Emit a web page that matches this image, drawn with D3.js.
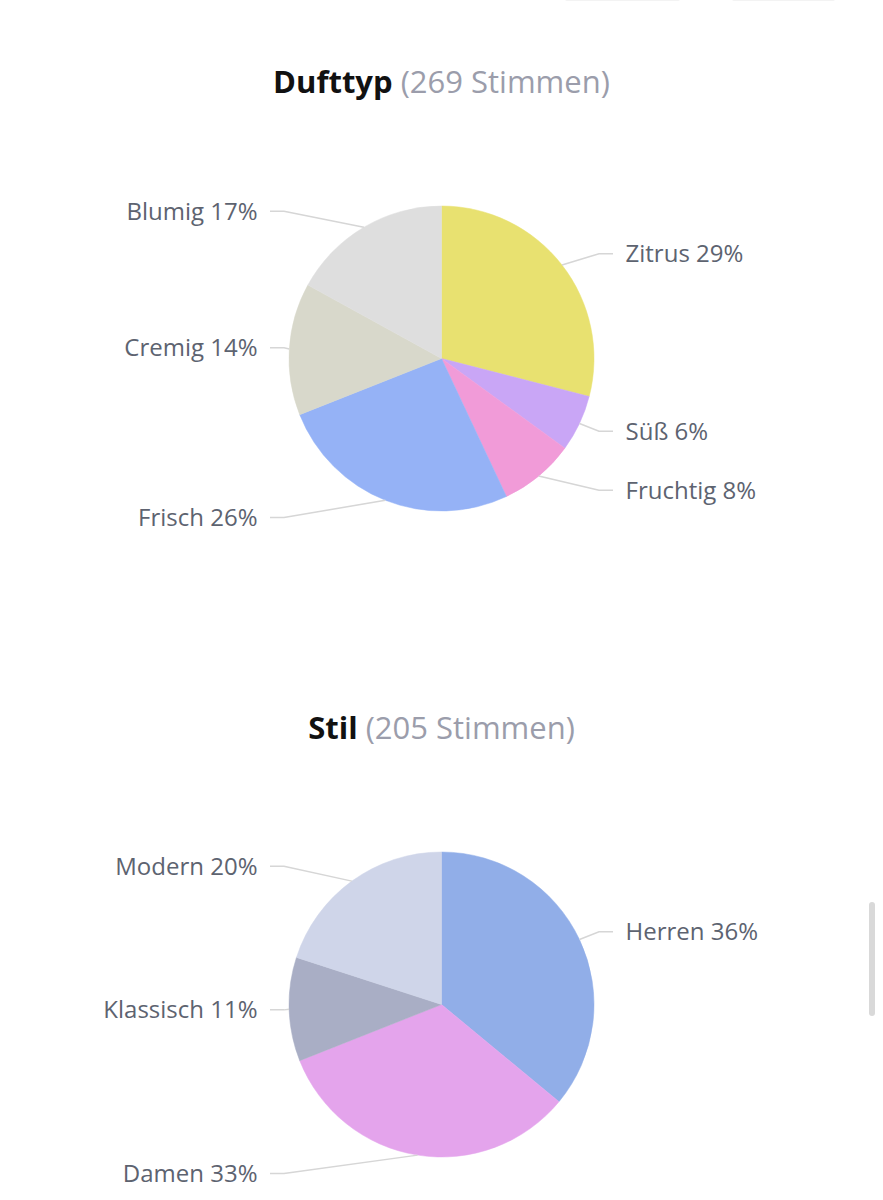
<!DOCTYPE html>
<html>
<head>
<meta charset="utf-8">
<script src="https://cdn.jsdelivr.net/npm/d3@7"></script>
<style>
  html, body { margin: 0; padding: 0; background: #ffffff; }
  svg { display: block; font-family: "Open Sans", sans-serif; }
</style>
</head>
<body>
<svg id="chart" width="883" height="1200"></svg>
<script>
// ---- Data ----
const duftCategories = ["Zitrus", "Süß", "Fruchtig", "Frisch", "Cremig", "Blumig"];
const duftValues = [29, 6, 8, 26, 14, 17];
const duftColors = ["#e8e170", "#c9a6f6", "#f19bd8", "#95b2f6", "#d8d8cb", "#dedede"];
const duftTitle = "Dufttyp";
const duftVotes = "(269 Stimmen)";

const stilCategories = ["Herren", "Damen", "Klassisch", "Modern"];
const stilValues = [36, 33, 11, 20];
const stilColors = ["#91aee8", "#e4a4ec", "#a9aec5", "#cfd5e9"];
const stilTitle = "Stil";
const stilVotes = "(205 Stimmen)";

const svg = d3.select("#chart");

// faint top buttons / scrollbar decoration
svg.append("rect").attr("x", 565).attr("y", -4).attr("width", 115).attr("height", 5).attr("rx", 2).attr("fill", "#f3f3f3");
svg.append("rect").attr("x", 732).attr("y", -4).attr("width", 103).attr("height", 5).attr("rx", 2).attr("fill", "#f3f3f3");
svg.append("rect").attr("x", 869).attr("y", 902).attr("width", 6).attr("height", 114).attr("rx", 3).attr("fill", "#d9d9d9");

function drawPie(cfg) {
  const g = svg.append("g").attr("transform", `translate(${cfg.cx},${cfg.cy})`);
  const r = cfg.r;
  const data = cfg.categories.map((c, i) => ({ name: c, value: cfg.values[i], color: cfg.colors[i] }));
  const pie = d3.pie().value(d => d.value).sort(null);
  const arcs = pie(data);
  const arc = d3.arc().innerRadius(0).outerRadius(r);

  g.selectAll("path.slice").data(arcs).join("path")
    .attr("class", "slice")
    .attr("d", arc)
    .attr("fill", d => d.data.color)
    .attr("stroke", d => d.data.color)
    .attr("stroke-width", 0.5);

  const labelR = r + 18.5;
  const breakDx = r + 5;
  const endDx = r + 19;
  const textDx = r + 31.5;

  arcs.forEach(a => {
    const mid = (a.startAngle + a.endAngle) / 2;
    const ex = r * Math.sin(mid), ey = -r * Math.cos(mid);
    const ly = -labelR * Math.cos(mid);
    const right = Math.sin(mid) >= 0;
    const s = right ? 1 : -1;
    g.append("path")
      .attr("d", `M${ex},${ey}L${s * breakDx},${ly}L${s * endDx},${ly}`)
      .attr("fill", "none")
      .attr("stroke", "#d6d6d6")
      .attr("stroke-width", 1.5);
    g.append("text")
      .attr("x", s * textDx)
      .attr("y", ly)
      .attr("dy", "0.35em")
      .attr("text-anchor", right ? "start" : "end")
      .attr("font-size", 24)
      .attr("fill", "#5d6370")
      .text(`${a.data.name} ${a.data.value}%`);
  });

  const t = svg.append("text")
    .attr("x", cfg.cx)
    .attr("y", cfg.titleY)
    .attr("text-anchor", "middle")
    .attr("font-size", 31);
  t.append("tspan").attr("font-weight", 700).attr("fill", "#111111").text(cfg.title);
  t.append("tspan").attr("fill", "#9b9dab").text(" " + cfg.votes);
}

drawPie({ cx: 441.5, cy: 358.5, r: 152.5, titleY: 93, title: duftTitle, votes: duftVotes,
  categories: duftCategories, values: duftValues, colors: duftColors });
drawPie({ cx: 441.5, cy: 1004.5, r: 152.5, titleY: 739, title: stilTitle, votes: stilVotes,
  categories: stilCategories, values: stilValues, colors: stilColors });
</script>
</body>
</html>
